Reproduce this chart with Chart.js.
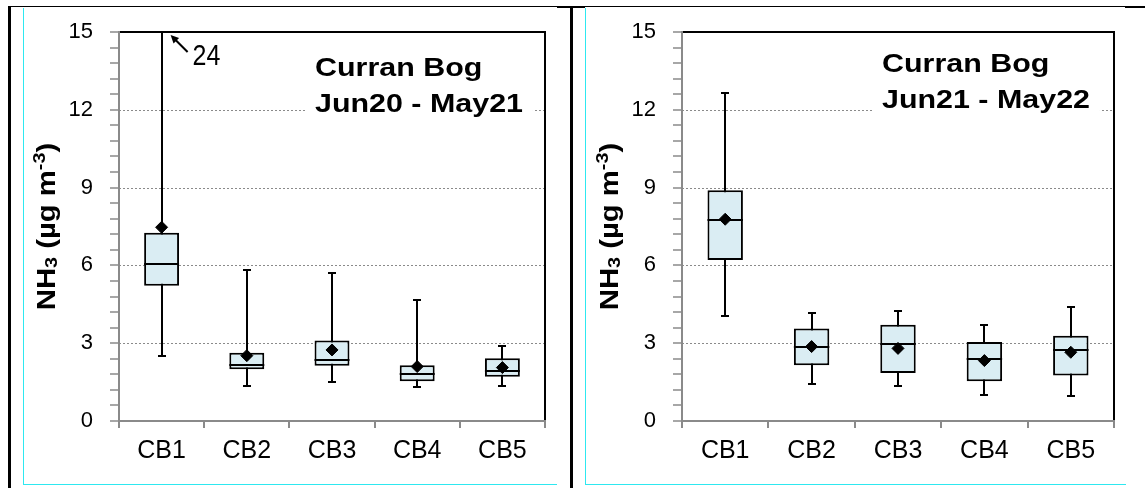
<!DOCTYPE html>
<html>
<head>
<meta charset="utf-8">
<script src="https://cdn.jsdelivr.net/npm/chart.js@4.4.1/dist/chart.umd.min.js"></script>
<style>
  html, body { margin: 0; padding: 0; background: #fff; }
  body { position: relative; width: 1145px; height: 488px; overflow: hidden; }
  .rule { position: absolute; background: #000; }
  .cyan { position: absolute; background: #2ee8f0; }
  .panel { position: absolute; }
  canvas { display: block; }
</style>
</head>
<body>
<!-- table frame -->
<div class="rule" style="left:8px;top:6px;width:1137px;height:1px"></div>
<div class="rule" style="left:557px;top:6px;width:28px;height:2px"></div>
<div class="rule" style="left:1125px;top:6px;width:20px;height:2px"></div>
<div class="rule" style="left:8px;top:6px;width:3px;height:482px"></div>
<div class="rule" style="left:570px;top:6px;width:3px;height:482px"></div>
<div class="cyan" style="left:23px;top:8px;width:1px;height:477px"></div>
<div class="cyan" style="left:23px;top:484px;width:534px;height:1px"></div>
<div class="cyan" style="left:585px;top:8px;width:1px;height:477px"></div>
<div class="cyan" style="left:585px;top:484px;width:541px;height:1px"></div>

<div class="panel" style="left:24px;top:6px"><canvas id="c1" width="533" height="478"></canvas></div>
<div class="panel" style="left:586px;top:6px"><canvas id="c2" width="540" height="478"></canvas></div>

<script>
// Sampling sites
const categories = ['CB1', 'CB2', 'CB3', 'CB4', 'CB5'];
const yTicks = [0, 3, 6, 9, 12, 15];

// Jun20 - May21 (µg m-3)
const minA    = [2.52, 1.36, 1.50, 1.32, 1.36];
const q1A     = [5.22, 2.00, 2.13, 1.53, 1.71];
const medianA = [6.04, 2.16, 2.35, 1.80, 1.94];
const q3A     = [7.26, 2.63, 3.10, 2.15, 2.42];
const maxA    = [24, 5.84, 5.69, 4.65, 2.90];
const meanA   = [7.47, 2.52, 2.74, 2.10, 2.06];

// Jun21 - May22 (µg m-3)
const minB    = [4.04, 1.43, 1.36, 1.00, 0.98];
const q1B     = [6.21, 2.15, 1.85, 1.53, 1.75];
const medianB = [7.75, 2.87, 2.97, 2.38, 2.74];
const q3B     = [8.90, 3.57, 3.71, 3.05, 3.29];
const maxB    = [12.64, 4.16, 4.23, 3.71, 4.40];
const meanB   = [7.78, 2.87, 2.80, 2.33, 2.65];

const FONT = '"Liberation Sans", Arial, sans-serif';
const Y_MIN = 0, Y_MAX = 15, MINOR_STEP = 0.6;
const AXIS_GREY = '#8a8a8a';
const BOLD_STRETCH = 1.17;

// Draw a run of text segments (with sub/superscripts) centred on x=0 along the baseline
function drawRuns(ctx, runs, size) {
  let w = 0;
  runs.forEach(r => {
    ctx.font = 'bold ' + Math.round(size * r.scale) + 'px ' + FONT;
    w += ctx.measureText(r.text).width;
  });
  let x = -w / 2;
  runs.forEach(r => {
    ctx.font = 'bold ' + Math.round(size * r.scale) + 'px ' + FONT;
    ctx.fillText(r.text, x, r.dy);
    x += ctx.measureText(r.text).width;
  });
}

function makeDecor(stats, cfg) {
  return {
    id: 'boxDecor',
    beforeDatasetsDraw(chart) {
      const { ctx, chartArea: ca, scales: { x, y } } = chart;
      ctx.save();
      // dotted horizontal grid
      ctx.strokeStyle = AXIS_GREY;
      ctx.lineWidth = 1;
      ctx.setLineDash([2, 2]);
      yTicks.forEach(v => {
        if (v <= Y_MIN || v >= Y_MAX) return;
        const py = Math.round(y.getPixelForValue(v)) + 0.5;
        ctx.beginPath(); ctx.moveTo(ca.left, py); ctx.lineTo(ca.right, py); ctx.stroke();
      });
      ctx.setLineDash([]);
      // whiskers, clipped to the plot area
      ctx.beginPath(); ctx.rect(ca.left, ca.top, ca.width, ca.height); ctx.clip();
      ctx.strokeStyle = '#000';
      ctx.lineWidth = 2;
      categories.forEach((c, i) => {
        const px = Math.round(x.getPixelForValue(i));
        const yLo = y.getPixelForValue(stats.min[i]);
        const yHi = y.getPixelForValue(stats.max[i]);
        ctx.beginPath(); ctx.moveTo(px, yLo); ctx.lineTo(px, Math.max(yHi, ca.top)); ctx.stroke();
        ctx.beginPath(); ctx.moveTo(px - 4, Math.round(yLo)); ctx.lineTo(px + 4, Math.round(yLo)); ctx.stroke();
        if (stats.max[i] <= Y_MAX) {
          ctx.beginPath(); ctx.moveTo(px - 4, Math.round(yHi)); ctx.lineTo(px + 4, Math.round(yHi)); ctx.stroke();
        }
      });
      ctx.restore();
    },
    afterDatasetDraw(chart, args) {
      if (args.index !== 1) return;
      const { ctx, scales: { y } } = chart;
      const bars = chart.getDatasetMeta(1).data;
      ctx.save();
      ctx.strokeStyle = '#000';
      ctx.lineWidth = 2;
      bars.forEach((bar, i) => {
        const py = Math.round(y.getPixelForValue(stats.median[i]));
        ctx.beginPath(); ctx.moveTo(bar.x - bar.width / 2, py); ctx.lineTo(bar.x + bar.width / 2, py); ctx.stroke();
      });
      ctx.restore();
    },
    afterDraw(chart) {
      const { ctx, chartArea: ca, scales: { x, y } } = chart;
      ctx.save();
      // plot frame: black top and right
      ctx.strokeStyle = '#000';
      ctx.lineWidth = 2;
      ctx.beginPath();
      ctx.moveTo(ca.left, ca.top); ctx.lineTo(ca.right, ca.top); ctx.lineTo(ca.right, ca.bottom);
      ctx.stroke();
      // grey value axis with minor ticks
      ctx.strokeStyle = AXIS_GREY;
      ctx.lineWidth = 2;
      ctx.beginPath(); ctx.moveTo(ca.left, ca.top - 1); ctx.lineTo(ca.left, ca.bottom + 1); ctx.stroke();
      ctx.lineWidth = 1.5;
      const nMinor = Math.round((Y_MAX - Y_MIN) / MINOR_STEP);
      for (let k = 0; k <= nMinor; k++) {
        const py = Math.round(y.getPixelForValue(Y_MIN + k * MINOR_STEP));
        ctx.beginPath(); ctx.moveTo(ca.left - 9, py); ctx.lineTo(ca.left, py); ctx.stroke();
      }
      // grey category axis with ticks at category edges
      ctx.lineWidth = 2;
      ctx.beginPath(); ctx.moveTo(ca.left, ca.bottom); ctx.lineTo(ca.right + 1, ca.bottom); ctx.stroke();
      for (let i = 0; i <= categories.length; i++) {
        const px = Math.round(x.getPixelForValue(i - 0.5));
        ctx.beginPath(); ctx.moveTo(px, ca.bottom); ctx.lineTo(px, ca.bottom + 7); ctx.stroke();
      }

      // panel title with white backing
      ctx.fillStyle = '#000';
      ctx.font = 'bold 26px ' + FONT;
      const tx = ca.left + cfg.titleDx;
      const b1 = ca.top + cfg.titleDy;
      const b2 = b1 + 36;
      const w = Math.max(...cfg.title.map(t => ctx.measureText(t).width)) * BOLD_STRETCH;
      ctx.fillStyle = '#fff';
      ctx.fillRect(tx - 8, b1 - 24, w + 18, b2 - b1 + 32);
      ctx.fillStyle = '#000';
      ctx.textBaseline = 'alphabetic';
      ctx.textAlign = 'left';
      cfg.title.forEach((t, k) => {
        ctx.save();
        ctx.translate(tx, k === 0 ? b1 : b2);
        ctx.scale(BOLD_STRETCH, 1);
        ctx.fillText(t, 0, 0);
        ctx.restore();
      });

      // value axis title: NH3 (µg m-3)
      ctx.save();
      ctx.translate(ca.left - 64, (ca.top + ca.bottom) / 2);
      ctx.rotate(-Math.PI / 2);
      ctx.scale(BOLD_STRETCH, 1);
      ctx.textAlign = 'left';
      drawRuns(ctx, [
        { text: 'NH', scale: 1, dy: 0 },
        { text: '3', scale: 0.66, dy: 2 },
        { text: ' (µg m', scale: 1, dy: 0 },
        { text: '-3', scale: 0.66, dy: -10 },
        { text: ')', scale: 1, dy: 0 }
      ], 25);
      ctx.restore();

      // off-scale maximum marker
      stats.max.forEach((v, i) => {
        if (v <= Y_MAX) return;
        const px = x.getPixelForValue(i);
        const tip = { x: px + 9, y: ca.top + 3 };
        const tail = { x: px + 26, y: ca.top + 20 };
        ctx.strokeStyle = '#000';
        ctx.fillStyle = '#000';
        ctx.lineWidth = 2;
        ctx.beginPath(); ctx.moveTo(tail.x, tail.y); ctx.lineTo(tip.x + 3, tip.y + 3); ctx.stroke();
        const ang = Math.atan2(tip.y - tail.y, tip.x - tail.x);
        ctx.beginPath();
        ctx.moveTo(tip.x, tip.y);
        ctx.lineTo(tip.x - 9 * Math.cos(ang - 0.45), tip.y - 9 * Math.sin(ang - 0.45));
        ctx.lineTo(tip.x - 9 * Math.cos(ang + 0.45), tip.y - 9 * Math.sin(ang + 0.45));
        ctx.closePath(); ctx.fill();
        ctx.save();
        ctx.translate(px + 31, ca.top + 33);
        ctx.scale(1, 1.2);
        ctx.font = '25px ' + FONT;
        ctx.textAlign = 'left';
        ctx.textBaseline = 'alphabetic';
        ctx.fillText(String(v), 0, 0);
        ctx.restore();
      });
      ctx.restore();
    }
  };
}

function buildChart(id, stats, cfg) {
  return new Chart(document.getElementById(id), {
    type: 'bar',
    data: {
      labels: categories,
      datasets: [
        {
          type: 'line',
          data: stats.mean,
          showLine: false,
          pointStyle: 'rectRot',
          pointRadius: 6,
          pointHoverRadius: 6,
          pointBackgroundColor: '#000',
          pointBorderColor: '#000',
          pointBorderWidth: 1
        },
        {
          type: 'bar',
          data: stats.q1.map((q, i) => [q, stats.q3[i]]),
          backgroundColor: '#daedf3',
          borderColor: '#000',
          borderWidth: 2,
          borderSkipped: false,
          barPercentage: 0.41,
          categoryPercentage: 1
        }
      ]
    },
    options: {
      responsive: false,
      animation: false,
      events: [],
      layout: { padding: { top: 26, right: 12, left: 0, bottom: 0 } },
      plugins: {
        legend: { display: false },
        tooltip: { enabled: false },
        title: { display: false }
      },
      scales: {
        x: {
          type: 'category',
          offset: true,
          grid: { display: false, drawTicks: false },
          border: { display: false },
          ticks: { color: '#000', font: { family: FONT, size: 25 }, padding: 15, maxRotation: 0, autoSkip: false },
          afterFit(sc) { sc.height = 63; }
        },
        y: {
          type: 'linear',
          min: Y_MIN,
          max: Y_MAX,
          grid: { display: false, drawTicks: false },
          border: { display: false },
          ticks: { stepSize: 3, color: '#000', font: { family: FONT, size: 22 }, padding: 26 },
          afterFit(sc) {
            sc.width = cfg.yAxisWidth;
            // the plot area is placed by the layout padding alone
            sc.paddingTop = 0;
            sc.paddingBottom = 0;
          }
        }
      }
    },
    plugins: [makeDecor(stats, cfg)]
  });
}

buildChart('c1',
  { min: minA, q1: q1A, median: medianA, q3: q3A, max: maxA, mean: meanA },
  { yAxisWidth: 95, title: ['Curran Bog', 'Jun20 - May21'], titleDx: 196, titleDy: 44 });

buildChart('c2',
  { min: minB, q1: q1B, median: medianB, q3: q3B, max: maxB, mean: meanB },
  { yAxisWidth: 96, title: ['Curran Bog', 'Jun21 - May22'], titleDx: 200, titleDy: 40 });
</script>
</body>
</html>
